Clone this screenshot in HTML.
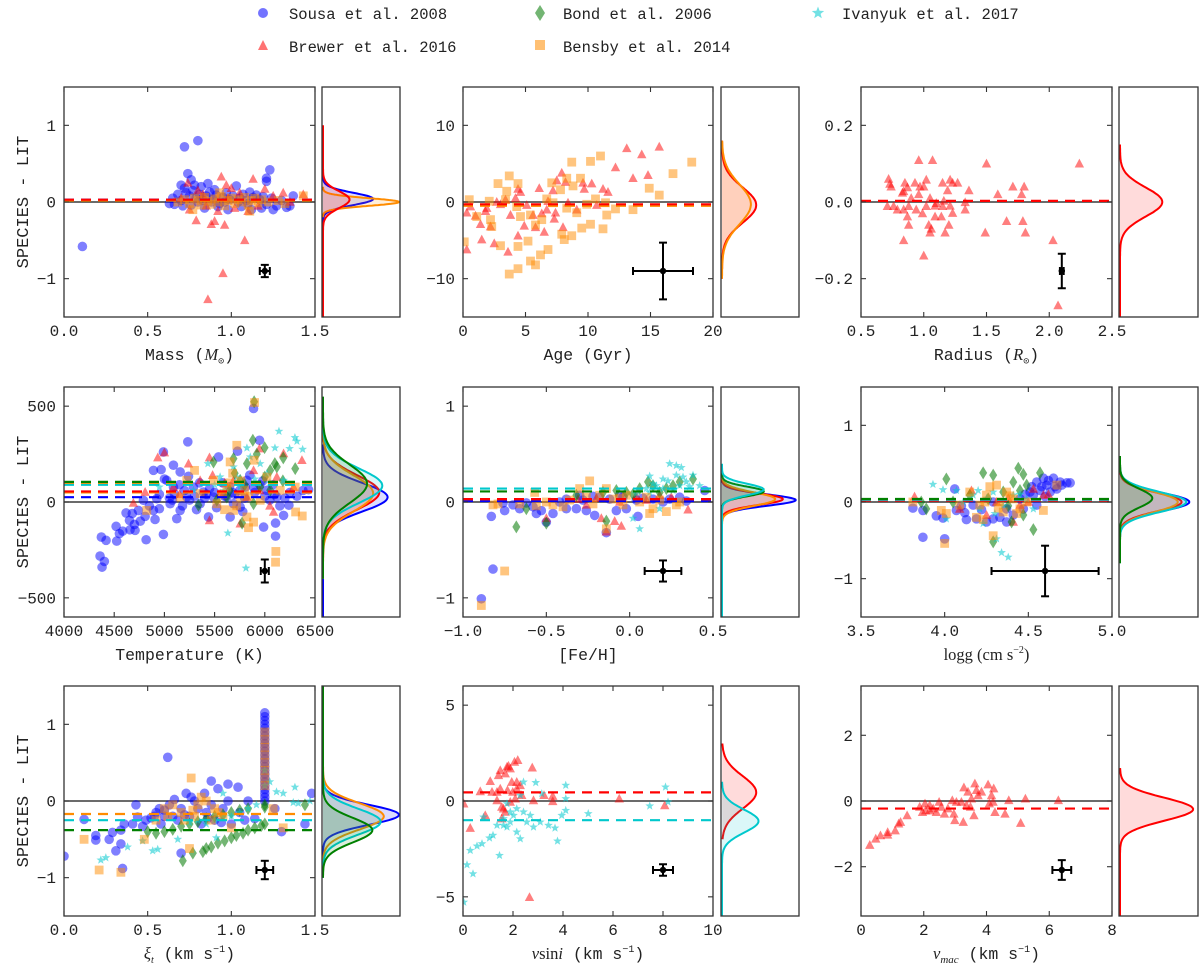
<!DOCTYPE html>
<html><head><meta charset="utf-8"><title>SPECIES vs literature</title>
<style>
html,body{margin:0;padding:0;background:#fff;}
svg{display:block;}
text{font-family:"Liberation Mono","DejaVu Sans Mono",monospace;fill:#222;}
.m{font-family:"Liberation Serif","DejaVu Serif",serif;font-style:italic;}
</style></head>
<body>
<svg id="fig" width="1200" height="965" viewBox="0 0 1200 965" xmlns="http://www.w3.org/2000/svg">
<g id="legend">
  <g><circle cx="263" cy="13" r="5" fill="rgba(0,0,255,0.55)"/><text x="289" y="19" font-size="15.5">Sousa et al. 2008</text></g>
  <g><path d="M540,5 L545,13 L540,21 L535,13 Z" fill="rgba(0,120,0,0.55)"/><text x="563" y="19" font-size="15.5">Bond et al. 2006</text></g>
  <g><path id="lgstar" fill="rgba(0,200,205,0.55)"/><text x="842" y="19" font-size="15.5">Ivanyuk et al. 2017</text></g>
  <g><path d="M263,40 L268,50 L258,50 Z" fill="rgba(255,0,0,0.55)"/><text x="289" y="52" font-size="15.5">Brewer et al. 2016</text></g>
  <g><rect x="535" y="40" width="10" height="10" fill="rgba(255,140,0,0.55)"/><text x="563" y="52" font-size="15.5">Bensby et al. 2014</text></g>
</g>
</svg>
<script>
// ---------------- DATA ----------------
// Panel 1: Mass
const P1_SOUSA=[0.11,-0.58,0.72,0.72,0.80,0.80,1.23,0.42,0.74,0.37,1.21,0.31,1.21,0.27,0.76,0.29,0.70,0.22,0.72,0.18,0.78,0.22,0.82,0.20,0.86,0.24,0.90,0.16,0.65,0.05,0.68,0.10,0.70,0.02,0.73,0.12,0.75,0.08,0.77,0.15,0.79,0.05,0.81,0.10,0.83,0.02,0.85,0.08,0.87,0.13,0.89,0.04,0.91,0.09,0.93,-0.02,0.95,0.06,0.97,0.12,0.99,0.03,1.01,0.08,1.03,0.21,1.05,0.05,1.07,0.10,1.09,0.02,1.11,0.13,1.13,0.06,1.15,0.09,1.17,0.03,1.19,0.07,1.21,-0.03,1.24,0.05,1.27,-0.05,1.30,0.02,1.33,-0.07,1.35,-0.05,1.37,0.08,0.63,-0.02,0.66,-0.03,0.71,-0.05,0.76,-0.04,0.84,-0.08,0.92,-0.06,0.98,-0.10,1.06,-0.06,1.12,-0.10,1.18,-0.08,1.25,-0.10,0.80,0.00,0.88,0.00,0.96,0.00,1.04,0.00,1.10,-0.02];
const P1_BREWER=[0.86,-1.27,0.95,-0.93,1.08,-0.50,0.88,-0.29,0.79,-0.24,0.96,-0.30,0.90,-0.25,1.13,0.30,0.94,0.33,1.31,0.12,0.74,0.25,0.97,0.22,1.00,0.18,0.80,0.15,1.20,0.17,1.43,0.10,0.75,-0.10,0.85,-0.05,0.92,-0.12,1.02,-0.08,1.10,-0.12,1.16,-0.05,0.83,0.10,0.98,0.05,1.05,0.12,1.25,0.08,1.35,0.00,0.70,0.05];
const P1_BENSBY=[0.68,0.00,0.72,0.03,0.75,-0.02,0.78,0.05,0.80,0.02,0.82,-0.04,0.84,0.06,0.86,0.01,0.88,-0.03,0.90,0.04,0.92,0.00,0.94,0.07,0.96,-0.05,0.98,0.02,1.00,0.05,1.02,-0.02,1.04,0.03,1.06,0.00,1.08,0.06,1.10,-0.04,1.12,0.02,1.14,0.05,1.16,-0.01,1.18,0.03,1.22,0.00,1.28,0.02,1.32,-0.02,1.43,0.08,0.77,-0.10,1.11,-0.12,0.93,0.12];
// Panel 2: Age
const P2_BREWER=[13.1,7.0,15.7,7.2,14.3,6.2,12.2,4.5,13.6,3.1,14.8,3.5,10.3,2.4,11.2,1.7,11.6,1.3,7.9,3.8,7.5,2.8,8.2,2.6,9.6,2.5,9.7,1.7,6.1,1.8,4.4,1.7,4.6,1.3,7.2,1.5,0.3,-1.4,0.3,-6.2,1.5,-4.9,3.6,-6.5,2.5,-5.4,4.4,-4.4,4.9,-3.1,5.8,-3.3,6.5,-3.9,8.0,-3.3,7.3,-2.2,1.4,-2.9,2.2,-3.2,1.0,-1.8,3.8,-1.7,2.7,0,3.4,0.3,4.2,0.5,5.1,-0.4,5.6,-1.7,6.3,-1.5,6.7,-1.0,6.8,0.1,7.4,-1.4,8.4,-0.1,9.1,-1.0,10.7,-0.4,1.8,-1.2,0.6,-0.6,3.0,-0.3,1.9,-0.8];
const P2_BENSBY=[18.3,5.2,16.8,3.7,11.0,6.0,10.2,5.3,8.7,5.2,9.4,3.1,8.3,3.1,8.8,2.1,3.7,3.4,4.4,2.4,2.8,2.4,3.5,1.4,7.1,2.5,7.8,1.6,14.9,1.8,15.7,0.9,13.6,-1.0,12.2,-0.9,11.4,-0.1,11.5,-1.7,11.2,-3.5,10.2,-2.9,9.5,-3.4,8.7,-4.4,8.1,-4.9,7.9,-4.2,6.8,-6.2,6.2,-6.9,5.8,-8.2,5.4,-7.7,4.4,-8.7,3.7,-9.4,4.4,-5.8,5.2,-5.1,3.0,-5.7,0.1,-5.2,0.5,0.3,1.1,-1.9,2.2,-2.3,2.3,-3.2,4.6,-1.9,5.4,-1.7,5.8,-3.0,6.3,-2.3,6.7,0.4,7.2,-0.1,8.3,-0.8,9.1,-1.4,9.9,-0.3,10.6,0.4,4.3,-0.6,3.4,0.3,2.1,0.1];
// Panel 3: Radius
const P3_BREWER=[0.96,0.109,1.07,0.109,1.5,0.1,2.24,0.1,0.72,0.06,0.73,0.047,0.74,0.04,0.85,0.05,0.87,0.038,0.93,0.05,0.97,0.04,1.0,0.04,1.02,0.058,1.15,0.05,1.21,0.058,1.23,0.05,1.27,0.05,1.19,0.03,1.36,0.03,1.71,0.04,1.8,0.04,1.59,0.02,1.78,0.02,0.83,0.024,0.84,0.028,0.9,0.01,0.96,0.02,1.05,0.01,1.1,-0.003,1.16,0.003,1.21,-0.01,0.71,-0.011,0.76,-0.011,0.79,-0.02,0.84,-0.02,0.88,-0.011,0.94,-0.02,1.02,-0.011,1.09,-0.01,1.15,-0.011,1.33,-0.001,1.33,-0.02,0.87,-0.038,0.99,-0.03,1.09,-0.038,1.14,-0.038,1.23,-0.029,0.88,-0.06,1.04,-0.06,1.06,-0.07,1.2,-0.06,1.17,-0.08,1.05,-0.08,0.84,-0.1,1.0,-0.14,1.49,-0.08,1.66,-0.05,1.79,-0.05,1.81,-0.08,2.03,-0.1,2.07,-0.27];
// Panel 4: Temperature
const P4_SOUSA=[4372,-183,4359,-282,4379,-340,4402,-310,4419,-200,4519,-127,4525,-204,4552,-165,4585,-152,4618,-57,4652,-96,4658,-145,4701,-117,4708,-148,4741,-44,4818,-197,4808,-75,4891,-44,4907,-91,4950,-35,4990,-169,4990,261,4891,165,4967,169,5090,192,5090,78,5240,134,5233,314,5157,157,5023,113,5057,-9,5123,-87,4924,17,5223,26,5289,78,5389,52,5488,26,5539,235,5439,-78,5655,-78,5728,265,5688,-9,5805,78,5947,322,5888,78,5988,-131,6021,61,6120,26,6107,-110,6107,-178,6187,-70,6240,-17,6436,64,5888,488,5822,113,5622,26,5755,-26,5356,-9,4791,9,5157,-44,5100,40,5200,60,5300,30,5400,20,5500,50,5600,30,5700,40,5800,20,5900,50,6000,30,6100,40,6200,20,5150,90,5350,100,5650,80,5950,90,5050,20,5250,10,5450,70,5750,60,6050,10,4850,-20,4950,40,5000,120,5080,10,5180,-20,5320,-40,5420,40,5520,-30,5580,100,5680,50,5780,-50,5850,140,5980,110,6080,90,6150,-20,6250,50,6320,30,6380,60,4760,-100,4680,-60];
const P4_BREWER=[4934,232,5000,258,5240,200,5449,232,5947,279,6370,218,4808,52,4691,-5,5449,-96,5755,-113,6087,-52,6287,78,5688,113,5888,165,6120,131,5356,113,5555,44,5090,78,5822,26,6187,253,5150,40,5600,100,5950,60,6050,-20,5480,140];
const P4_BOND=[5894,523,5881,322,5998,284,6184,230,5688,226,5489,209,6120,183,6303,174,5822,200,6054,165,5755,113,5954,78,5622,26,5774,-110,5339,-17,6054,61,5522,9,5888,-9,5700,150,5800,90,6000,130,6100,200,5920,250,5650,60,6180,110];
const P4_IVANYUK=[6141,369,6300,336,6320,317,6377,275,6247,279,6101,282,5822,282,5855,235,5632,-162,5812,-345,5433,200,4950,78,5688,183,5954,200,6021,148,5555,131,5755,78,6187,113,5289,61,5600,60,5900,120,6050,100,5500,90,5720,130];
const P4_BENSBY=[5721,296,5898,519,5300,165,5655,209,5894,218,6303,78,6373,-73,6307,-52,5838,-134,5888,-105,6110,-258,6107,-314,5822,-78,5522,-9,5755,26,5356,44,5622,78,6021,131,6154,61,5489,113,5223,113,5688,-44,5954,9,5157,26,4824,-44,5580,40,5650,100,5720,-20,5800,60,5600,-40,5680,150,5760,110,5840,30];
// Panel 5: [Fe/H]
const P5_SOUSA=[-0.89,-1.01,-0.82,-0.7,-0.83,-0.15,-0.75,-0.09,-0.7,-0.03,-0.66,-0.07,-0.62,-0.01,-0.56,-0.12,-0.53,-0.09,-0.5,-0.21,-0.46,-0.12,-0.42,0,-0.38,-0.07,-0.32,-0.07,-0.26,-0.09,-0.21,-0.14,-0.14,-0.32,-0.08,-0.09,-0.02,-0.07,0.05,-0.15,0.45,0.12,-0.38,0.03,-0.3,0.07,-0.18,0.05,-0.06,0.07,0.04,0.02,0.14,0.03,0.24,0.03,0.34,0.01,-0.76,-0.01,-0.58,-0.05,-0.28,0.02,-0.22,0.06,-0.12,0.03,-0.04,0.05,0.08,0.04,0.2,0.0,0.3,0.05];
const P5_BREWER=[-0.5,-0.17,-0.17,-0.17,-0.09,-0.2,-0.05,-0.25,0.35,-0.08,-0.31,0.03,-0.14,-0.31,0.04,0.07,0.18,0.07,-0.26,-0.03,-0.06,0,-0.2,0.04,0.1,0.02,0.25,0.05];
const P5_BOND=[-0.68,-0.26,-0.5,-0.22,-0.14,-0.2,0.11,0.21,0.14,0.17,0.22,0.14,0.38,0.24,-0.02,0.1,-0.16,0.1,-0.32,0.07,-0.62,-0.07,0.06,0.14,0.3,0.21,0.18,0.1,0.26,0.17,-0.08,0.12,0.02,0.08];
const P5_IVANYUK=[0.24,0.4,0.28,0.38,0.31,0.36,0.38,0.28,0.12,0.27,0.14,0.19,0.2,0.24,0.28,0.28,0.34,0.21,0.02,-0.17,0.06,-0.28,0.16,0.17,0.23,0.22,0.3,0.17,0.36,0.16,0.1,0.14,0.26,0.12,0.18,-0.07,0.42,0.17,0.04,0.09,0.12,0.1,0.2,0.14,0.32,0.26];
const P5_BENSBY=[-0.89,-1.08,-0.75,-0.72,-0.82,-0.03,-0.79,-0.02,-0.57,0.1,-0.24,0.22,-0.14,-0.28,0.12,-0.12,0.28,-0.03,-0.46,-0.03,-0.36,0.02,-0.26,0.05,-0.18,0.07,-0.1,0.03,-0.02,0.07,0.06,0,0.18,0.02,-0.66,-0.02,-0.4,-0.05,-0.3,0.14,-0.14,0.14,-0.04,-0.03,0.14,-0.07,-0.56,-0.04,-0.5,0.0,-0.22,-0.02,-0.06,0.04,0.1,0.05,0.22,-0.1,0.3,0.0];
// Panel 6: logg
const P6_SOUSA=[3.81,-0.08,3.87,-0.46,3.87,-0.11,3.95,-0.18,3.99,-0.21,4.0,-0.48,4.06,0.17,4.07,-0.11,4.12,-0.14,4.13,-0.23,4.19,-0.22,4.25,-0.26,4.29,-0.22,4.37,-0.26,4.41,-0.17,4.47,-0.09,4.51,0.13,4.55,0.26,4.59,0.31,4.61,0.22,4.65,0.31,4.69,0.26,4.73,0.25,4.75,0.25,4.57,0.15,4.63,0.13,4.53,0.09,4.45,0.04,4.29,0,4.17,-0.04,4.37,-0.09,4.67,0.17,4.55,-0.04,4.6,0.07,4.58,0.2,4.62,0.28,4.66,0.2,4.7,0.22,4.52,0.2,4.48,0.1,4.33,-0.2,4.22,-0.1,4.1,-0.05];
const P6_BREWER=[3.82,0.07,4.16,0.15,4.25,-0.17,4.41,-0.26,4.53,0.17,4.59,0.09,4.45,-0.04,4.31,0,4.09,-0.09,4.38,0.05,4.5,0.0,4.62,0.1];
const P6_BOND=[4.01,0.3,4.23,0.38,4.29,0.35,4.44,0.44,4.47,0.36,4.57,0.38,4.53,-0.36,4.29,-0.52,3.86,0,3.89,-0.09,4.4,-0.26,4.47,-0.17,4.35,0.13,4.15,0.09,4.41,0.26,4.49,0.22,4.26,0.04,4.05,0,4.38,-0.05,4.45,0.15];
const P6_IVANYUK=[3.93,0.23,3.99,0.16,4.07,0.15,4.34,-0.66,4.38,-0.72,4.31,-0.48,4.23,-0.28,4.01,-0.22,4.17,0.09,4.29,0.13,4.41,0.09,4.49,0.04,4.21,-0.09,4.53,-0.09,4.11,0,4.25,0.05,4.35,-0.05,4.45,0.1,4.2,0.15,4.3,-0.15];
const P6_BENSBY=[4.0,-0.54,4.29,-0.44,3.98,-0.11,4.01,-0.15,4.19,-0.2,4.23,-0.23,4.31,0.22,4.45,-0.09,4.59,-0.11,4.67,0.22,4.15,0.13,4.25,0.09,4.33,0,4.37,0.13,4.09,-0.04,4.41,0.04,4.49,0,3.81,0,4.21,-0.04,4.35,-0.13,4.27,0.2,4.32,-0.08,4.39,0.08,4.43,-0.15,4.24,0.0];
// Panel 7: microturbulence
const P7_SOUSA=[1.2,1.15,1.2,1.1,1.2,1.05,1.2,1.0,1.2,0.95,1.2,0.9,1.2,0.85,1.2,0.8,1.2,0.75,1.2,0.7,1.2,0.65,1.2,0.6,1.2,0.55,1.2,0.5,1.2,0.45,1.2,0.4,1.2,0.35,1.2,0.3,1.2,0.25,1.2,0.2,1.2,0.15,1.2,0.1,1.2,0.05,1.2,0.0,0.0,-0.72,0.12,-0.24,0.19,-0.45,0.19,-0.51,0.29,-0.41,0.27,-0.5,0.31,-0.65,0.34,-0.56,0.35,-0.88,0.34,-0.38,0.36,-0.3,0.41,-0.3,0.43,-0.05,0.44,-0.21,0.47,-0.33,0.49,-0.25,0.54,-0.2,0.57,-0.1,0.6,-0.2,0.62,0.57,0.63,-0.05,0.66,0.02,0.7,-0.1,0.73,0.1,0.76,0.05,0.8,-0.1,0.84,0.1,0.88,0.26,0.92,0.16,0.98,0.22,1.04,0.18,1.1,0.0,1.14,-0.23,1.0,-0.3,0.9,-0.25,0.82,-0.3,0.7,-0.68,0.58,-0.3,0.65,-0.2,0.75,-0.2,0.85,-0.15,0.95,-0.1,1.05,-0.15,1.3,-0.4,1.44,-0.3,1.48,0.1,1.26,-0.1,0.55,-0.15,0.68,-0.25,0.78,0.0,0.88,-0.05,0.98,0.0,0.52,-0.22,0.6,-0.12,0.72,-0.18,0.86,-0.22,0.94,-0.28,1.08,-0.25];
const P7_BOND=[0.71,-0.78,0.77,-0.68,0.83,-0.66,0.88,-0.6,0.92,-0.55,0.96,-0.52,1.0,-0.48,1.03,-0.45,1.07,-0.42,1.1,-0.38,1.14,-0.35,1.18,-0.32,1.2,-0.3,0.85,-0.62,0.6,-0.4,0.65,-0.37,0.7,-0.33,0.75,-0.3,0.8,-0.27,0.85,-0.23,0.9,-0.2,0.95,-0.18,1.0,-0.15,1.05,-0.12,1.1,-0.1,1.2,-0.05,1.2,-0.08,1.44,-0.05,0.5,-0.4,0.55,-0.42];
const P7_IVANYUK=[0.22,-0.77,0.25,-0.74,0.38,-0.6,0.47,-0.52,0.53,-0.65,0.56,-0.63,0.68,-0.5,0.91,-0.48,0.85,-0.3,0.9,-0.25,0.95,-0.22,1.0,-0.2,1.05,-0.15,1.1,-0.1,1.15,-0.05,1.23,0.25,1.27,0.12,1.31,0.1,1.38,0.18,1.37,-0.02,1.4,-0.03,1.47,0.0,1.2,0.4,1.2,0.2,0.95,0.1,0.75,-0.28,0.8,-0.25];
const P7_BENSBY=[1.2,0.9,1.2,0.8,1.2,0.7,1.2,0.6,1.2,0.5,1.2,0.4,1.2,0.3,1.2,0.2,0.12,-0.5,0.21,-0.9,0.34,-0.93,0.48,-0.5,0.76,0.3,0.75,-0.62,1.31,-0.35,1.25,-0.1,0.6,-0.1,0.65,-0.05,0.7,-0.15,0.8,-0.05,0.85,0.0,0.9,-0.1,0.72,-0.25,0.78,-0.2,0.95,-0.2,1.0,-0.35,0.55,-0.25,0.62,-0.2,0.88,-0.25,0.82,0.05,0.77,-0.12,0.92,-0.15];
// Panel 8: vsini
const P8_BREWER=[0.03,-0.14,0.29,-1.41,0.69,0.5,0.89,-0.75,1.09,1.03,1.16,0.47,1.36,0.03,1.42,1.34,1.49,1.6,1.55,-0.92,1.62,-0.4,1.69,1.43,1.76,1.78,1.82,1.83,1.89,1.69,1.95,0.99,1.99,0.47,2.06,2.04,2.19,2.13,2.15,0.99,2.29,0.82,2.35,0.3,1.89,-0.05,1.69,-0.57,1.55,-0.31,2.09,0.12,1.78,0.56,2.77,1.74,2.82,0.03,3.24,0.3,3.59,0.26,3.59,-0.02,2.66,-5.02,6.25,0.12,8.07,-0.23,1.49,0.64,2.15,0.64,1.36,0.47];
const P8_IVANYUK=[0.03,-5.28,0.16,-3.33,0.4,-3.8,0.29,-2.58,0.56,-2.35,0.76,-2.23,1.06,-1.93,1.2,-1.79,1.46,-2.84,0.82,-0.84,1.62,-1.27,1.76,-1.36,1.89,-1.1,2.02,-0.75,2.15,-1.62,2.29,-1.97,2.42,-0.57,2.55,-1.1,2.69,-0.75,2.82,-1.36,2.91,0.96,3.15,0.38,3.09,-1.1,3.42,-1.27,3.68,-1.41,3.78,-2.09,3.95,-0.75,4.11,-0.49,4.11,0.82,4.11,0.12,5.01,-0.66,7.47,-0.26,8.1,0.73,8.2,-0.05,2.42,0.99,2.15,-0.4,1.89,-0.57,1.62,-0.92,1.76,-0.14,2.29,0.3,1.36,-1.27];
// Panel 9: vmac
const P9_BREWER=[0.28,-1.34,0.47,-1.15,0.62,-1.05,0.85,-1.03,0.85,-0.95,1.09,-0.9,1.2,-0.69,1.26,-0.64,1.47,-0.44,1.96,-0.34,2.04,-0.08,2.06,-0.29,2.19,-0.29,2.3,-0.23,2.4,-0.34,2.49,-0.03,2.56,-0.18,2.66,-0.39,2.77,-0.23,2.91,0.02,2.96,-0.39,2.99,-0.59,3.04,-0.03,3.2,-0.03,3.26,-0.64,3.28,0.41,3.36,-0.13,3.41,0.28,3.49,-0.18,3.52,0.07,3.63,0.53,3.6,-0.44,3.68,0.33,3.73,0.17,3.84,0.28,4.05,0.5,4.09,-0.08,4.16,0.17,4.23,0.38,4.27,-0.34,4.21,-0.03,4.59,-0.39,4.71,0.02,5.09,-0.67,5.24,0.07,6.29,0.02,1.87,-0.18,2.19,-0.13];
// Mean offsets (dashed lines): [series, value]
const P1_MEANS=[['blue',0.03],['orange',0.02],['red',0.03]];
const P2_MEANS=[['orange',-0.5],['red',-0.3]];
const P3_MEANS=[['red',0.003]];
const P4_MEANS=[['blue',25],['orange',50],['red',55],['cyan',90],['orange',100],['green',105]];
const P5_MEANS=[['blue',0.01],['orange',0.03],['red',0.03],['green',0.11],['cyan',0.14]];
const P6_MEANS=[['blue',0.02],['orange',0.02],['red',0.02],['cyan',0.03],['green',0.04]];
const P7_MEANS=[['orange',-0.17],['cyan',-0.25],['green',-0.38]];
const P8_MEANS=[['red',0.45],['cyan',-1.0]];
const P9_MEANS=[['red',-0.23]];
// Gaussian fits: [series, mu, sigma, peak fraction, yLow, yHigh]
const P1_GAUSS=[['blue',0.04,0.08,0.66,-0.3,0.35],['orange',0.0,0.05,1.0,-0.2,0.2],['red',0.03,0.11,0.35,-1.5,1.0]];
const P2_GAUSS=[['red',-0.4,2.3,0.45,-10,8],['orange',-0.3,2.6,0.38,-10,8]];
const P3_GAUSS=[['red',0.0,0.038,0.55,-0.3,0.15]];
const P4_GAUSS=[['blue',25,75,0.85,-600,300],['red',50,90,0.74,-400,400],['orange',45,95,0.66,-400,400],['cyan',85,90,0.78,-400,400],['green',95,100,0.58,-400,550]];
const P5_GAUSS=[['blue',0.02,0.06,0.97,-0.2,0.3],['red',0.03,0.06,0.8,-0.2,0.3],['orange',0.03,0.07,0.7,-0.25,0.3],['green',0.11,0.05,0.55,-0.1,0.35],['cyan',0.13,0.06,0.55,-1.2,0.4]];
const P6_GAUSS=[['blue',0.0,0.12,0.9,-0.6,0.6],['red',0.0,0.12,0.8,-0.6,0.6],['orange',0.0,0.13,0.75,-0.6,0.6],['cyan',0.0,0.13,0.86,-0.8,0.6],['green',0.05,0.12,0.42,-0.8,0.6]];
const P7_GAUSS=[['blue',-0.18,0.13,1.0,-1.0,0.8],['orange',-0.2,0.17,0.8,-1.0,0.8],['cyan',-0.27,0.17,0.76,-1.0,0.8],['green',-0.38,0.16,0.65,-1.0,1.5]];
const P8_GAUSS=[['red',0.45,0.85,0.45,-2.0,3.0],['cyan',-1.05,0.6,0.48,-6.0,1.0]];
const P9_GAUSS=[['red',-0.25,0.35,0.95,-3.5,1.0]];
// Typical error bars: [x, y, xerr, yerr]
const ERR=[[1.2,-0.9,0.03,0.08],[16,-9,2.4,3.7],[2.1,-0.18,0.015,0.045],[6000,-360,40,60],[0.2,-0.72,0.11,0.11],[4.6,-0.9,0.32,0.33],[1.2,-0.9,0.05,0.12],[8,-3.6,0.4,0.3],[6.4,-2.1,0.3,0.3]];

// ---------------- LAYOUT ----------------
const COLS=[[64,315,322,400],[463,713,721,799],[861,1112,1119,1198]];
const ROWS=[87,387,686];
const PH=230;
const COL={blue:'#0000ff',red:'#ff0000',green:'#008000',cyan:'#00c8cc',orange:'#ff8c00'};
const FILL={blue:'rgba(0,0,255,0.5)',red:'rgba(255,0,0,0.5)',green:'rgba(0,120,0,0.55)',cyan:'rgba(0,200,205,0.55)',orange:'rgba(255,140,0,0.5)'};
const SHAPE={blue:'circle',red:'tri',green:'diamond',cyan:'star',orange:'square'};
const PANELS=[
 {name:'mass',xlim:[0,1.5],ylim:[-1.5,1.5],xt:[0,0.5,1,1.5],xl:['0.0','0.5','1.0','1.5'],yt:[-1,0,1],yl:['\u22121','0','1'],xlab:'Mass (<tspan class="m">M</tspan><tspan font-size="10" dy="4">\u2299</tspan><tspan dy="-4">)</tspan>',series:[['blue',P1_SOUSA],['red',P1_BREWER],['orange',P1_BENSBY]],means:P1_MEANS,gauss:P1_GAUSS},
 {name:'age',xlim:[0,20],ylim:[-15,15],xt:[0,5,10,15,20],xl:['0','5','10','15','20'],yt:[-10,0,10],yl:['\u221210','0','10'],xlab:'Age (Gyr)',series:[['red',P2_BREWER],['orange',P2_BENSBY]],means:P2_MEANS,gauss:P2_GAUSS},
 {name:'radius',xlim:[0.5,2.5],ylim:[-0.3,0.3],xt:[0.5,1,1.5,2,2.5],xl:['0.5','1.0','1.5','2.0','2.5'],yt:[-0.2,0,0.2],yl:['\u22120.2','0.0','0.2'],xlab:'Radius (<tspan class="m">R</tspan><tspan font-size="10" dy="4">\u2299</tspan><tspan dy="-4">)</tspan>',series:[['red',P3_BREWER]],means:P3_MEANS,gauss:P3_GAUSS},
 {name:'temperature',xlim:[4000,6500],ylim:[-600,600],xt:[4000,4500,5000,5500,6000,6500],xl:['4000','4500','5000','5500','6000','6500'],yt:[-500,0,500],yl:['\u2212500','0','500'],xlab:'Temperature (K)',series:[['blue',P4_SOUSA],['red',P4_BREWER],['green',P4_BOND],['cyan',P4_IVANYUK],['orange',P4_BENSBY]],means:P4_MEANS,gauss:P4_GAUSS},
 {name:'feh',xlim:[-1,0.5],ylim:[-1.2,1.2],xt:[-1,-0.5,0,0.5],xl:['\u22121.0','\u22120.5','0.0','0.5'],yt:[-1,0,1],yl:['\u22121','0','1'],xlab:'[Fe/H]',series:[['blue',P5_SOUSA],['red',P5_BREWER],['green',P5_BOND],['cyan',P5_IVANYUK],['orange',P5_BENSBY]],means:P5_MEANS,gauss:P5_GAUSS},
 {name:'logg',xlim:[3.5,5],ylim:[-1.5,1.5],xt:[3.5,4,4.5,5],xl:['3.5','4.0','4.5','5.0'],yt:[-1,0,1],yl:['\u22121','0','1'],xlab:'<tspan font-family="Liberation Serif,serif">logg (cm s</tspan><tspan font-family="Liberation Serif,serif" font-size="10" dy="-7">\u22122</tspan><tspan font-family="Liberation Serif,serif" dy="7">)</tspan>',series:[['blue',P6_SOUSA],['red',P6_BREWER],['green',P6_BOND],['cyan',P6_IVANYUK],['orange',P6_BENSBY]],means:P6_MEANS,gauss:P6_GAUSS},
 {name:'microturbulence',xlim:[0,1.5],ylim:[-1.5,1.5],xt:[0,0.5,1,1.5],xl:['0.0','0.5','1.0','1.5'],yt:[-1,0,1],yl:['\u22121','0','1'],xlab:'<tspan class="m">\u03be</tspan><tspan class="m" font-size="10" dy="4">t</tspan><tspan dy="-4">  (km s</tspan><tspan font-size="10" dy="-7">\u22121</tspan><tspan dy="7">)</tspan>',series:[['blue',P7_SOUSA],['green',P7_BOND],['cyan',P7_IVANYUK],['orange',P7_BENSBY]],means:P7_MEANS,gauss:P7_GAUSS},
 {name:'vsini',xlim:[0,10],ylim:[-6,6],xt:[0,2,4,6,8,10],xl:['0','2','4','6','8','10'],yt:[-5,0,5],yl:['\u22125','0','5'],xlab:'<tspan class="m">v</tspan><tspan font-family="Liberation Serif,serif">sin</tspan><tspan class="m">i</tspan><tspan>  (km s</tspan><tspan font-size="10" dy="-7">\u22121</tspan><tspan dy="7">)</tspan>',series:[['red',P8_BREWER],['cyan',P8_IVANYUK]],means:P8_MEANS,gauss:P8_GAUSS},
 {name:'vmac',xlim:[0,8],ylim:[-3.5,3.5],xt:[0,2,4,6,8],xl:['0','2','4','6','8'],yt:[-2,0,2],yl:['\u22122','0','2'],xlab:'<tspan class="m">v</tspan><tspan class="m" font-size="11" dy="4">mac</tspan><tspan dy="-4">  (km s</tspan><tspan font-size="10" dy="-7">\u22121</tspan><tspan dy="7">)</tspan>',series:[['red',P9_BREWER]],means:P9_MEANS,gauss:P9_GAUSS}
];

const NS='http://www.w3.org/2000/svg';
const svg=document.getElementById('fig');
function el(tag,attrs,parent){const e=document.createElementNS(NS,tag);for(const k in attrs)e.setAttribute(k,attrs[k]);(parent||svg).appendChild(e);return e;}
function starPath(cx,cy,R){let d='';for(let i=0;i<10;i++){const r=i%2?R*0.42:R;const a=-Math.PI/2+i*Math.PI/5;d+=(i?'L':'M')+(cx+r*Math.cos(a)).toFixed(2)+','+(cy+r*Math.sin(a)).toFixed(2);}return d+'Z';}
document.getElementById('lgstar').setAttribute('d',starPath(818,13,6.5));

function marker(shape,cx,cy,fill,g){
  let m;
  if(shape==='circle')m=el('circle',{cx:cx,cy:cy,r:4.8,fill:fill},g);
  else if(shape==='tri')m=el('path',{d:`M${cx},${cy-5}L${cx+4.7},${cy+3.8}L${cx-4.7},${cy+3.8}Z`,fill:fill},g);
  else if(shape==='square')m=el('rect',{x:cx-4.4,y:cy-4.4,width:8.8,height:8.8,fill:fill},g);
  else if(shape==='diamond')m=el('path',{d:`M${cx},${cy-6.5}L${cx+4},${cy}L${cx},${cy+6.5}L${cx-4},${cy}Z`,fill:fill},g);
  else m=el('path',{d:starPath(cx,cy,4.6),fill:fill},g);
  return m;
}

PANELS.forEach((P,i)=>{
  const c=COLS[i%3], top=ROWS[Math.floor(i/3)], bot=top+PH;
  const x0=c[0],x1=c[1],s0=c[2],s1=c[3];
  const sx=v=>x0+(v-P.xlim[0])/(P.xlim[1]-P.xlim[0])*(x1-x0);
  const sy=v=>bot-(v-P.ylim[0])/(P.ylim[1]-P.ylim[0])*PH;
  const g=el('g',{});
  
  
  const clip=el('clipPath',{id:'clip'+i},g);el('rect',{x:x0,y:top,width:x1-x0,height:PH},clip);
  const clip2=el('clipPath',{id:'clips'+i},g);el('rect',{x:s0,y:top,width:s1-s0,height:PH},clip2);
  const zl=el('line',{x1:x0,x2:x1,y1:sy(0),y2:sy(0),stroke:'#3a3a3a','stroke-width':1.6},g);
  
  
  const pg=el('g',{'clip-path':'url(#clip'+i+')'},g);
  P.series.forEach(([k,arr])=>{
    const sg=el('g',{},pg);
    
    
    for(let j=0;j+1<arr.length;j+=2){
      const m=marker(SHAPE[k],sx(arr[j]),sy(arr[j+1]),FILL[k],sg);
      
      
    }
  });
  P.means.forEach(([k,v])=>{
    const l=el('line',{x1:x0,x2:x1,y1:sy(v),y2:sy(v),stroke:COL[k],'stroke-width':2.2,'stroke-dasharray':'10,7'},pg);
    
    
  });
  const E=ERR[i];
  const eg=el('g',{stroke:'#000','stroke-width':2},g);
  
  
  const ex=sx(E[0]),ey=sy(E[1]);
  const exl=sx(E[0]-E[2]),exr=sx(E[0]+E[2]),eyt=sy(E[1]+E[3]),eyb=sy(E[1]-E[3]);
  el('line',{x1:exl,x2:exr,y1:ey,y2:ey},eg);el('line',{x1:ex,x2:ex,y1:eyt,y2:eyb},eg);
  el('line',{x1:exl,x2:exl,y1:ey-4,y2:ey+4},eg);el('line',{x1:exr,x2:exr,y1:ey-4,y2:ey+4},eg);
  el('line',{x1:ex-4,x2:ex+4,y1:eyt,y2:eyt},eg);el('line',{x1:ex-4,x2:ex+4,y1:eyb,y2:eyb},eg);
  el('circle',{cx:ex,cy:ey,r:3.2,fill:'#000',stroke:'none'},eg);
  const tg=el('g',{stroke:'#333','stroke-width':1.1},g);
  P.xt.forEach((t,j)=>{const X=sx(t);el('line',{x1:X,x2:X,y1:bot,y2:bot-5},tg);el('line',{x1:X,x2:X,y1:top,y2:top+5},tg);
    const tx=el('text',{x:X,y:bot+19,'font-size':16,'text-anchor':'middle'},g);tx.textContent=P.xl[j];
    
    });
  P.yt.forEach((t,j)=>{const Y=sy(t);el('line',{x1:x0,x2:x0+5,y1:Y,y2:Y},tg);el('line',{x1:x1,x2:x1-5,y1:Y,y2:Y},tg);
    const ty=el('text',{x:x0-8,y:Y+5.5,'font-size':16,'text-anchor':'end'},g);ty.textContent=P.yl[j];
    
    });
  const fr=el('rect',{x:x0,y:top,width:x1-x0,height:PH,fill:'none',stroke:'#333','stroke-width':1.3},g);
  
  
  const hg=el('g',{'clip-path':'url(#clips'+i+')'},g);
  
  
  const sw=s1-s0;
  P.gauss.forEach(([k,mu,s,pk,lo,hi])=>{
    let pts=[];const N=120;
    for(let n=0;n<=N;n++){const v=lo+(hi-lo)*n/N;const X=s0+1+pk*(sw-2)*Math.exp(-0.5*((v-mu)/s)**2);pts.push([X,sy(v)]);}
    const poly=pts.map(p=>p[0].toFixed(1)+','+p[1].toFixed(1)).join(' ');
    const f=el('polygon',{points:(s0+1)+','+sy(hi).toFixed(1)+' '+poly+' '+(s0+1)+','+sy(lo).toFixed(1),fill:COL[k],'fill-opacity':0.14,stroke:'none'},hg);
    
    
    const l=el('polyline',{points:poly,fill:'none',stroke:COL[k],'stroke-width':2},hg);
    
    
  });
  const sf=el('rect',{x:s0,y:top,width:sw,height:PH,fill:'none',stroke:'#333','stroke-width':1.3},g);
  
  
  const xl=el('text',{x:(x0+x1)/2,y:bot+43,'font-size':16.5,'text-anchor':'middle'},g);
  xl.innerHTML=P.xlab;
  
  
  if(i%3===0){
    const yt=el('text',{x:0,y:0,'font-size':17,'text-anchor':'middle',transform:`translate(28,${top+PH/2}) rotate(-90)`},g);
    yt.textContent='SPECIES - LIT';
    
    
  }
});
</script>
</body></html>
